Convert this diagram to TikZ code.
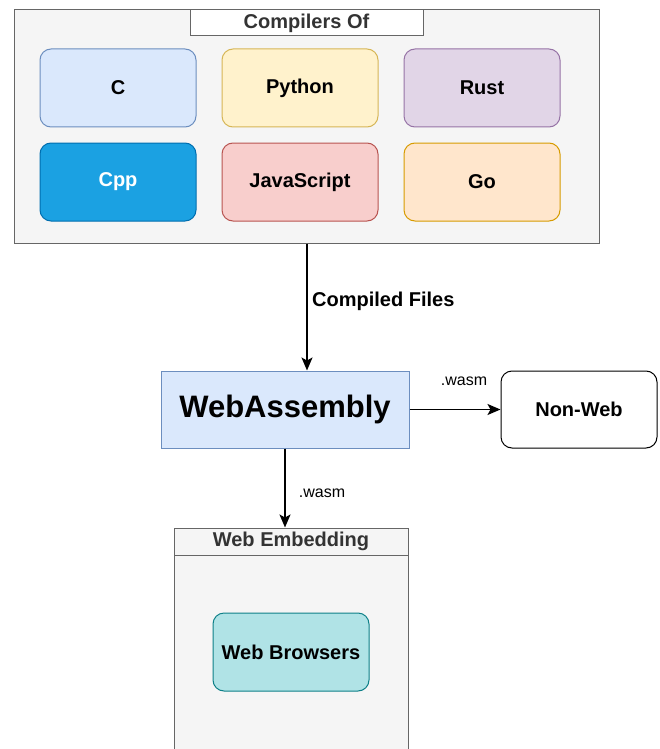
\documentclass[tikz,border=0pt]{standalone}
\usepackage{fontspec}
\setmainfont{Liberation Sans}
\usetikzlibrary{arrows.meta,positioning}
\definecolor{contfill}{HTML}{F5F5F5}
\definecolor{contline}{HTML}{666666}
\definecolor{titletext}{HTML}{333333}
\definecolor{bluefill}{HTML}{DAE8FC}\definecolor{blueline}{HTML}{6C8EBF}
\definecolor{yelfill}{HTML}{FFF2CC}\definecolor{yelline}{HTML}{D6B656}
\definecolor{purfill}{HTML}{E1D5E7}\definecolor{purline}{HTML}{9673A6}
\definecolor{cppfill}{HTML}{1BA1E2}\definecolor{cppline}{HTML}{006EAF}
\definecolor{redfill}{HTML}{F8CECC}\definecolor{redline}{HTML}{B85450}
\definecolor{orafill}{HTML}{FFE6CC}\definecolor{oraline}{HTML}{D79B00}
\definecolor{tealfill}{HTML}{B0E3E6}\definecolor{tealline}{HTML}{0E8088}
\tikzset{
  lang/.style={draw, line width=1pt, rounded corners=11pt, minimum width=156pt, minimum height=78pt,
    font=\fontsize{20}{24}\selectfont\bfseries, text=black, inner sep=0pt},
  container/.style={draw=contline, fill=contfill, line width=1pt, inner sep=0pt},
  titlebox/.style={draw=contline, line width=1pt, inner sep=0pt, font=\fontsize{20}{24}\selectfont\bfseries, text=titletext},
  conn/.style={line width=1.6pt, -{Stealth[length=13pt,width=11pt,inset=3pt]}},
  lbl/.style={font=\fontsize{20}{24}\selectfont\bfseries, inner sep=0pt},
  smalllbl/.style={font=\fontsize{16}{19}\selectfont, inner sep=0pt}
}
\begin{document}
\begin{tikzpicture}[x=1pt,y=-1pt]
\useasboundingbox (0,0) rectangle (660,749);
% compilers container
\node[container, minimum width=585pt, minimum height=233pt] (outer) at (306.5,126.5) {};
\node[titlebox, fill=white, minimum width=233pt, minimum height=26pt] (ctitle) at (306.5,23) {Compilers Of};
\node[lang, fill=bluefill, draw=blueline] (c) at (118,88) {C};
\node[lang, fill=yelfill, draw=yelline] (py) at (300,88) {Python};
\node[lang, fill=purfill, draw=purline] (rs) at (482,88) {Rust};
\node[lang, fill=cppfill, draw=cppline, text=white] (cpp) at (118,182) {Cpp};
\node[lang, fill=redfill, draw=redline] (js) at (300,182) {JavaScript};
\node[lang, fill=orafill, draw=oraline] (go) at (482,182) {Go};
% webassembly
\node[draw=blueline, fill=bluefill, line width=1pt, minimum width=248pt, minimum height=77pt, inner sep=0pt,
  font=\fontsize{31}{36}\selectfont\bfseries] (wa) at (285,409.5) {WebAssembly};
\node[draw=black, fill=white, line width=1pt, rounded corners=11pt, minimum width=156pt, minimum height=77pt, inner sep=0pt,
  font=\fontsize{20}{24}\selectfont\bfseries] (nw) at (579,409.5) {Non-Web};
% web embedding container (runs off the bottom of the page)
\filldraw[fill=contfill, draw=contline, line width=1pt] (174,760) -- (174,528) -- (408,528) -- (408,760);
\node[titlebox, fill=contfill, minimum width=234pt, minimum height=27pt] (emb) at (291,541.5) {Web Embedding};
\node[lang, fill=tealfill, draw=tealline] (wb) at (291,652) {Web Browsers};
% connectors
\draw[conn] (outer.south -| 307,0) -- (wa.north -| 307,0);
\node[lbl, anchor=west] (cf) at (312,301) {Compiled Files};
\draw[conn] (wa.east) -- (nw.west);
\node[smalllbl] (w1) at (464,381) {.wasm};
\draw[conn] (wa.south) -- (emb.north -| wa.south);
\node[smalllbl] (w2) at (322,493) {.wasm};
\end{tikzpicture}
\end{document}
